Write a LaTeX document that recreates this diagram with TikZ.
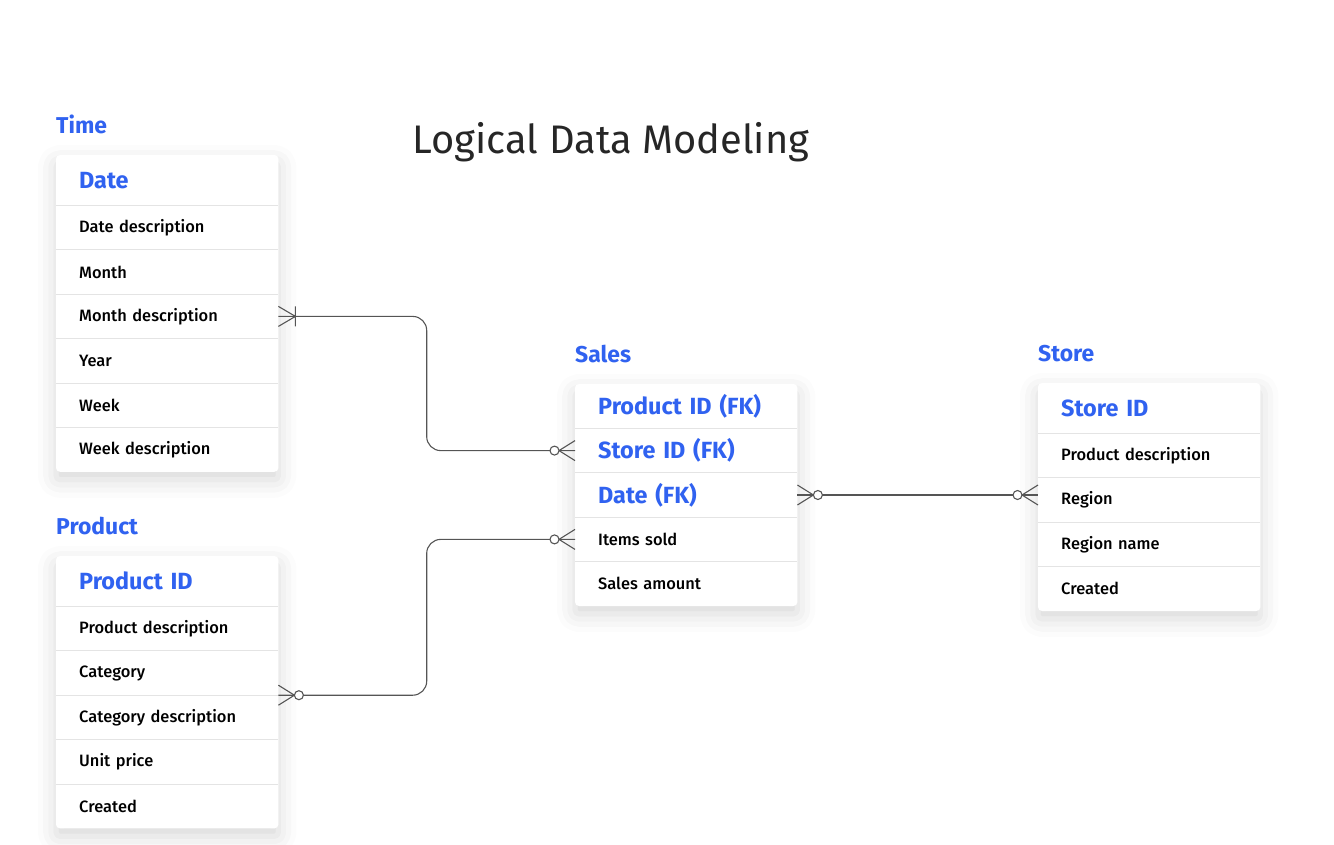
\documentclass[tikz,border=0pt]{standalone}
\usepackage{fontspec}
\setmainfont{Fira Sans}
\newfontfamily\medfont{Fira Sans Medium}
\usetikzlibrary{positioning,calc,backgrounds,shadows.blur}

\definecolor{keyblue}{HTML}{3062F0}
\definecolor{inkgray}{HTML}{262626}
\definecolor{relgray}{HTML}{555555}
\definecolor{sepgray}{HTML}{E4E4E4}

\tikzset{
	tabtitle/.style={inner sep=0pt, text=keyblue, font=\fontsize{23}{26}\selectfont\bfseries},
	keyrow/.style={inner xsep=23bp, inner ysep=0pt, text width=176bp, align=left,
		minimum height=50bp, text=keyblue, font=\fontsize{23.5}{27}\selectfont\bfseries},
	fkrow/.style={keyrow, minimum height=44bp},
	attrow/.style={inner xsep=23bp, inner ysep=0pt, text width=176bp, align=left,
		minimum height=44bp, text=black, font=\medfont\fontsize{16.5}{19}\selectfont},
	sepline/.style={draw=sepgray, line width=1bp},
	tabbox/.style={fill=white, rounded corners=4bp,
		blur shadow={shadow xshift=0bp, shadow yshift=-8bp, shadow blur radius=18bp, shadow opacity=16}},
	relline/.style={draw=relgray, line width=1.1bp},
	onemany/.pic={\draw[relline] (0,-10) -- (17,0) -- (0,10) (17,-10) -- (17,10);},
	zeromany/.pic={\draw[relline] (0,-10) -- (16,0) -- (0,10);
		\draw[relline, fill=white] (20.5,0) circle[radius=4.5bp];},
}

\begin{document}
\begin{tikzpicture}[x=1bp, y=-1bp]
	\useasboundingbox (0,0) rectangle (1334,844);
	\node[text=inkgray, font=\fontsize{40}{46}\selectfont] (title) at (611,142) {Logical Data Modeling};
	%
	% Time
	\node[keyrow, anchor=north west] (tdate) at (56,155) {Date};
	\foreach \name/\txt [remember=\name as \prev (initially tdate)] in
		{tdd/Date description, tmo/Month, tmd/Month description, tyr/Year, twk/Week, twd/Week description} {
		\node[attrow, below=0pt of \prev] (\name) {\txt};
		\draw[sepline] (\name.north west) -- (\name.north east);
	}
	\node[tabtitle, above right=21bp and 0bp of tdate.north west] (ttime) {Time};
	%
	% Product
	\node[keyrow, anchor=north west] (pid) at (56,556) {Product ID};
	\foreach \name/\txt [remember=\name as \prev (initially pid)] in
		{ppd/Product description, pcat/Category, pcd/Category description, pup/Unit price, pcr/Created} {
		\node[attrow, below=0pt of \prev] (\name) {\txt};
		\draw[sepline] (\name.north west) -- (\name.north east);
	}
	\node[tabtitle, above right=21bp and 0bp of pid.north west] (tproduct) {Product};
	%
	% Sales
	\node[fkrow, anchor=north west] (spid) at (575,384) {Product ID (FK)};
	\node[fkrow, below=0pt of spid] (ssid) {Store ID (FK)};
	\node[fkrow, below=0pt of ssid] (sdate) {Date (FK)};
	\node[attrow, below=0pt of sdate] (sitems) {Items sold};
	\node[attrow, below=0pt of sitems] (samount) {Sales amount};
	\foreach \name in {ssid, sdate, sitems, samount}
		\draw[sepline] (\name.north west) -- (\name.north east);
	\node[tabtitle, above right=21bp and 0bp of spid.north west] (tsales) {Sales};
	%
	% Store
	\node[keyrow, anchor=north west] (stid) at (1038,383) {Store ID};
	\foreach \name/\txt [remember=\name as \prev (initially stid)] in
		{stpd/Product description, streg/Region, strn/Region name, stcr/Created} {
		\node[attrow, below=0pt of \prev] (\name) {\txt};
		\draw[sepline] (\name.north west) -- (\name.north east);
	}
	\node[tabtitle, above right=21bp and 0bp of stid.north west] (tstore) {Store};
	%
	\begin{scope}[on background layer]
		\path[tabbox] (tdate.north west) rectangle (twd.south east);
		\path[tabbox] (pid.north west) rectangle (pcr.south east);
		\path[tabbox] (spid.north west) rectangle (samount.south east);
		\path[tabbox] (stid.north west) rectangle (stcr.south east);
	\end{scope}
	%
	% relations
	\coordinate (tbend) at ($(tmd.east)!0.5!(ssid.west)$);
	\coordinate (pbend) at ($(pcd.north east)!0.5!(sitems.west)$);
	\coordinate (streg-in) at (sdate.east -| streg.west);
	\draw[relline, rounded corners=14bp] (tmd.east) -| (tbend) |- (ssid.west);
	\draw[relline, rounded corners=14bp] (pcd.north east) -| (pbend) |- (sitems.west);
	\draw[relline] (sdate.east) -- (streg-in);
	\pic at (tmd.east) {onemany};
	\pic[rotate=180] at (ssid.west) {zeromany};
	\pic at (pcd.north east) {zeromany};
	\pic[rotate=180] at (sitems.west) {zeromany};
	\pic at (sdate.east) {zeromany};
	\pic[rotate=180] at (streg-in) {zeromany};
\end{tikzpicture}
\end{document}
